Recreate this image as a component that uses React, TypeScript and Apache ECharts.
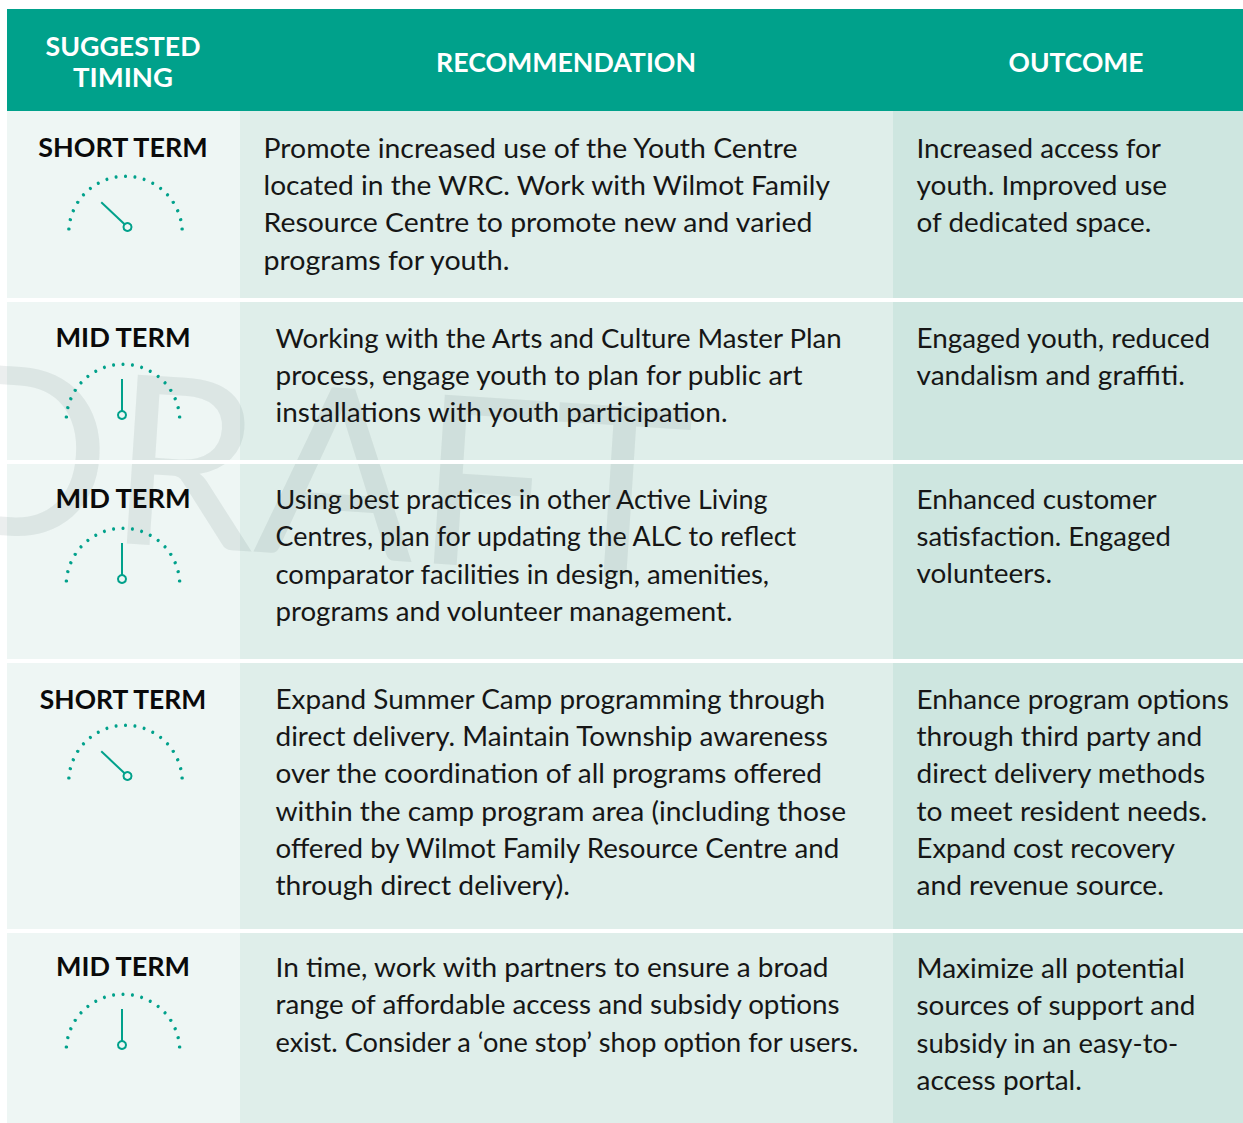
import React, { useEffect, useRef } from "react";
import * as echarts from "echarts";

const headers = [["SUGGESTED", "TIMING"], ["RECOMMENDATION"], ["OUTCOME"]];
const timing = ["SHORT TERM", "MID TERM", "MID TERM", "SHORT TERM", "MID TERM"];
const dialValues = [24, 50, 50, 24, 50];
const recommendation = [
  ["Promote increased use of the Youth Centre", "located in the WRC. Work with Wilmot Family", "Resource Centre to promote new and varied", "programs for youth."],
  ["Working with the Arts and Culture Master Plan", "process, engage youth to plan for public art", "installations with youth participation."],
  ["Using best practices in other Active Living", "Centres, plan for updating the ALC to reflect", "comparator facilities in design, amenities,", "programs and volunteer management."],
  ["Expand Summer Camp programming through", "direct delivery. Maintain Township awareness", "over the coordination of all programs offered", "within the camp program area (including those", "offered by Wilmot Family Resource Centre and", "through direct delivery)."],
  ["In time, work with partners to ensure a broad", "range of affordable access and subsidy options", "exist. Consider a ‘one stop’ shop option for users."],
];
const outcome = [
  ["Increased access for", "youth. Improved use", "of dedicated space."],
  ["Engaged youth, reduced", "vandalism and graffiti."],
  ["Enhanced customer", "satisfaction. Engaged", "volunteers."],
  ["Enhance program options", "through third party and", "direct delivery methods", "to meet resident needs.", "Expand cost recovery", "and revenue source."],
  ["Maximize all potential", "sources of support and", "subsidy in an easy-to-", "access portal."],
];
// right edge of each printed line
const recommendationEnds = [
  [799, 832, 814, 511],
  [844, 804, 729],
  [769, 798, 770, 734],
  [826, 829, 823, 846, 841, 570],
  [830, 841, 860],
];
const outcomeEnds = [
  [1161, 1167, 1152],
  [1211, 1185],
  [1157, 1171, 1052],
  [1229, 1203, 1206, 1207, 1175, 1164],
  [1185, 1196, 1179, 1082],
];
const headerWidths = [[155, 100], [260], [135]];
const labelWidths = [171, 136, 136, 168, 135];

const rowTops = [111, 302, 464, 663, 933];
const rowBottoms = [298, 460, 659, 929, 1123];
const recX = [263.5, 275.5, 275.5, 275.5, 275.5];
const recFirst = [147.5, 337.5, 498.5, 698.5, 966.5];
const outFirst = [147.5, 337.5, 498.5, 698.5, 967.5];
const labelX = [123, 123, 123, 123, 123];
const labelY = [147.5, 337.5, 498.5, 698.5, 966.5];
const dialX = [125.5, 123, 123, 125.5, 123];
const dialY = [229, 417, 581, 778, 1047];

const FONT = "Lato, 'Open Sans', sans-serif";
const TEAL = "#00A18B";
const LINE = 37.3;

export default function App() {
  const ref = useRef<HTMLDivElement>(null);
  useEffect(() => {
    const chart = echarts.init(ref.current!, null, { renderer: "svg" });
    const ctx = document.createElement("canvas").getContext("2d")!;
    const fit = (text: string, font: string, target: number) => {
      ctx.font = font;
      return target / ctx.measureText(text).width;
    };
    const g: any[] = [];
    g.push({ type: "rect", z: 1, shape: { x: 7, y: 9, width: 1236, height: 102 }, style: { fill: TEAL } });
    rowTops.forEach((t, i) => {
      const h = rowBottoms[i] - t;
      g.push({ type: "rect", z: 1, shape: { x: 7, y: t, width: 233, height: h }, style: { fill: "#EEF6F4" } });
      g.push({ type: "rect", z: 1, shape: { x: 240, y: t, width: 653, height: h }, style: { fill: "#DFEEEA" } });
      g.push({ type: "rect", z: 1, shape: { x: 893, y: t, width: 350, height: h }, style: { fill: "#CEE6E0" } });
    });
    g.push({
      type: "text", z: 2, x: -68, y: 439, rotation: (-3.7 * Math.PI) / 180,
      style: { text: "DRAFT", font: `400 236px ${FONT}`, fill: "#748585", opacity: 0.14, verticalAlign: "middle", textAlign: "left" },
    });
    rowBottoms.slice(0, 4).forEach((b, i) => {
      g.push({ type: "rect", z: 3, shape: { x: 7, y: b, width: 1236, height: rowTops[i + 1] - b }, style: { fill: "#FFFFFF" } });
    });
    const hx = [123, 566, 1076];
    const hFont = `700 26px ${FONT}`;
    headers.forEach((lines, i) => {
      lines.forEach((h, k) => {
        g.push({
          type: "text", z: 5, x: hx[i], y: 62 + (k - (lines.length - 1) / 2) * 31,
          scaleX: fit(h, hFont, headerWidths[i][k]),
          style: { text: h, font: hFont, fill: "#FFFFFF", textAlign: "center", verticalAlign: "middle" },
        });
      });
    });
    const bodyFont = `400 27px ${FONT}`;
    const labelFont = `700 26.5px ${FONT}`;
    const addLines = (lines: string[], ends: number[], x: number, first: number) => {
      lines.forEach((line, k) => {
        g.push({
          type: "text", z: 5, x, y: first + k * LINE,
          scaleX: fit(line, bodyFont, ends[k] - x),
          style: { text: line, font: bodyFont, fill: "#161616", textAlign: "left", verticalAlign: "middle" },
        });
      });
    };
    timing.forEach((t, i) => {
      g.push({
        type: "text", z: 5, x: labelX[i], y: labelY[i],
        scaleX: fit(t, labelFont, labelWidths[i]),
        style: { text: t, font: labelFont, fill: "#0A0A0A", textAlign: "center", verticalAlign: "middle" },
      });
      addLines(recommendation[i], recommendationEnds[i], recX[i], recFirst[i]);
      addLines(outcome[i], outcomeEnds[i], 916.5, outFirst[i]);
    });
    const series: any[] = [];
    dialValues.forEach((v, i) => {
      series.push({
        type: "gauge", z: 6, center: [dialX[i], dialY[i] + 4], radius: 57,
        startAngle: 176, endAngle: 4, min: 0, max: 18, splitNumber: 18,
        axisLine: { show: false, lineStyle: { width: 0 } }, axisLabel: { show: false },
        axisTick: { show: false }, pointer: { show: false }, anchor: { show: false }, title: { show: false }, detail: { show: false },
        splitLine: { show: true, distance: 0, length: 0.5, lineStyle: { color: TEAL, width: 3, cap: "round" } },
        data: [{ value: 0 }],
      });
      series.push({
        type: "gauge", z: 7, center: [dialX[i] + (v === 50 ? -1 : 2), dialY[i] - 2], radius: 36,
        startAngle: 180, endAngle: 0, min: 0, max: 100,
        axisLine: { show: false, lineStyle: { width: 0 } }, axisLabel: { show: false }, axisTick: { show: false }, splitLine: { show: false },
        title: { show: false }, detail: { show: false },
        pointer: { show: true, icon: "rect", width: 2, length: "100%", itemStyle: { color: TEAL } },
        anchor: { show: true, showAbove: true, size: 8, itemStyle: { color: "#EEF6F4", borderColor: TEAL, borderWidth: 2 } },
        data: [{ value: v }],
      });
    });
    chart.setOption({ animation: false, backgroundColor: "#FFFFFF", graphic: { elements: g }, series });
    return () => chart.dispose();
  }, []);
  return <div ref={ref} style={{ position: "fixed", left: 0, top: 0, width: 1243, height: 1123 }} />;
}
